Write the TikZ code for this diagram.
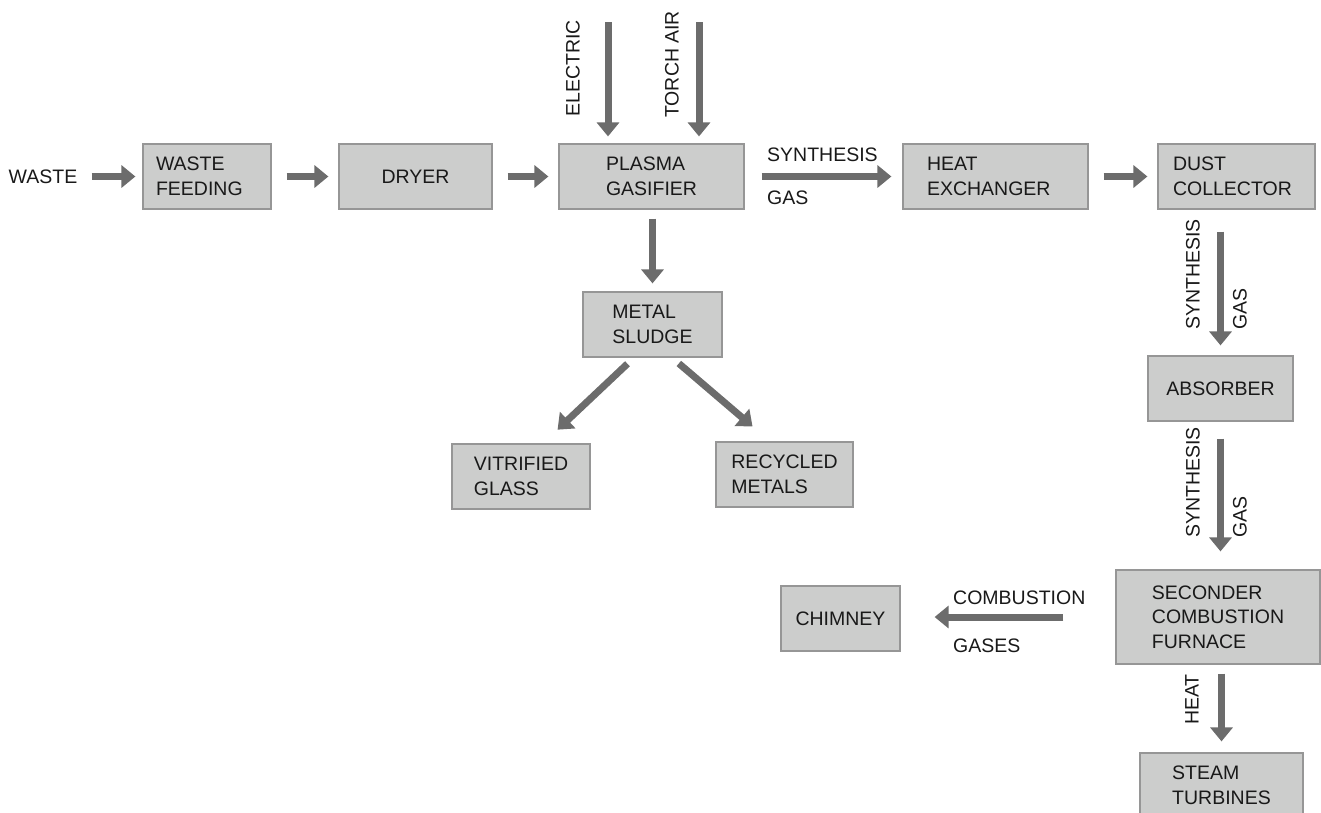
\documentclass[tikz,border=0pt]{standalone}
\usepackage{fontspec}
\setmainfont{Liberation Sans}
\usetikzlibrary{arrows.meta,positioning,calc}

\definecolor{boxfill}{RGB}{204,205,204}
\definecolor{boxline}{RGB}{150,150,150}
\definecolor{flowgray}{RGB}{108,108,108}

\begin{document}
\begin{tikzpicture}[x=1pt, y=-1pt,
    font=\fontsize{19.5}{24.5}\selectfont,
    unit/.style={draw=boxline, line width=1.2pt, fill=boxfill, align=left,
        minimum height=65pt, text=black!90},
    flow/.style={flowgray, line width=7pt, -{Triangle[length=14pt, width=22pt]},
        shorten <=15pt, shorten >=10pt},
    lbl/.style={inner sep=0pt, text=black!90}]
    \useasboundingbox (0,0) rectangle (1321,812);
    \clip (0,0) rectangle (1321,812);

    % Main line
    \node[lbl] (waste) at (43,176.5) {WASTE};
    \node[unit, minimum width=128pt, text width=102pt, inner xsep=13pt] (feed) at (207,176.5) {WASTE\\FEEDING};
    \node[unit, minimum width=153pt] (dryer) at (415.5,176.5) {DRYER};
    \node[unit, minimum width=185pt] (plasma) at (651.5,176.5) {PLASMA\\GASIFIER};
    \node[unit, minimum width=185pt, text width=137pt, inner xsep=24pt] (heat) at (995.5,176.5) {HEAT\\EXCHANGER};
    \node[unit, minimum width=157pt, text width=127pt, inner xsep=15pt] (dust) at (1236.5,176.5) {DUST\\COLLECTOR};

    \draw[flow, shorten <=14pt, shorten >=7pt] (waste) -- (feed);
    \foreach \a/\b in {feed/dryer, dryer/plasma, heat/dust}
        \draw[flow] (\a) -- (\b);
    \draw[flow, shorten <=17pt, shorten >=11pt] (plasma) -- (heat);
    \node[lbl, anchor=west] (syn) at (767,155) {SYNTHESIS};
    \node[lbl, anchor=west] (gas) at (767,198) {GAS};

    % Plasma torch inputs
    \coordinate (elecin) at (608,22);
    \coordinate (airin) at (699,22);
    \foreach \c in {elecin, airin}
        \draw[flow, shorten <=0pt, shorten >=7pt] (\c) -- (\c |- plasma.north);
    \node[lbl, rotate=90, anchor=west] (elec) at (573,117) {ELECTRIC};
    \node[lbl, rotate=90, anchor=west] (air) at (672,118) {TORCH AIR};

    % Slag side
    \node[unit, minimum width=139pt] (sludge) at (652.5,324.5) {METAL\\SLUDGE};
    \node[unit, minimum width=138pt] (vitr) at (521,476.5) {VITRIFIED\\GLASS};
    \node[unit, minimum width=137pt] (recyc) at (784.5,474.5) {RECYCLED\\METALS};

    \draw[flow, shorten <=9pt, shorten >=8pt] (plasma.south -| sludge.north) -- (sludge.north);
    \draw[flow, shorten <=9pt, shorten >=20pt] ($(sludge.south)+(-18.5,0)$) -- ($(vitr.north)+(22,0)$);
    \draw[flow, shorten <=9pt, shorten >=23pt] ($(sludge.south)+(19.5,0)$) -- ($(recyc.north)+(-14.5,0)$);

    % Gas cleaning and energy recovery
    \node[unit, minimum width=145pt] (absorb) at (1220.5,388.5) {ABSORBER};
    \node[unit, minimum width=204pt, minimum height=94pt] (furnace) at (1218,617) {SECONDER\\COMBUSTION\\FURNACE};
    \node[unit, minimum width=163pt] (steam) at (1221.5,785.5) {STEAM\\TURBINES};
    \node[unit, minimum width=119pt] (chimney) at (840.5,618.5) {CHIMNEY};

    \draw[flow, shorten <=22pt, shorten >=10pt] (dust.south -| absorb.north) -- (absorb.north);
    \draw[flow, shorten <=17pt, shorten >=18pt] (absorb.south) -- (absorb.south |- furnace.north);
    \draw[flow, shorten <=9pt, shorten >=11pt] (furnace.south -| steam.north) -- (steam.north);
    \draw[flow, shorten <=52pt, shorten >=34pt] (furnace.west) -- (furnace.west -| chimney.east);

    \foreach \y/\n in {330/a, 538/b} {
        \node[lbl, rotate=90, anchor=west] (syn\n) at (1193,\y) {SYNTHESIS};
        \node[lbl, rotate=90, anchor=west] (gas\n) at (1240,\y) {GAS};
    }
    \node[lbl, rotate=90, anchor=west] (heatlbl) at (1192,725) {HEAT};
    \node[lbl, anchor=west] (comb) at (953,598) {COMBUSTION};
    \node[lbl, anchor=west] (gases) at (953,646) {GASES};
\end{tikzpicture}
\end{document}
